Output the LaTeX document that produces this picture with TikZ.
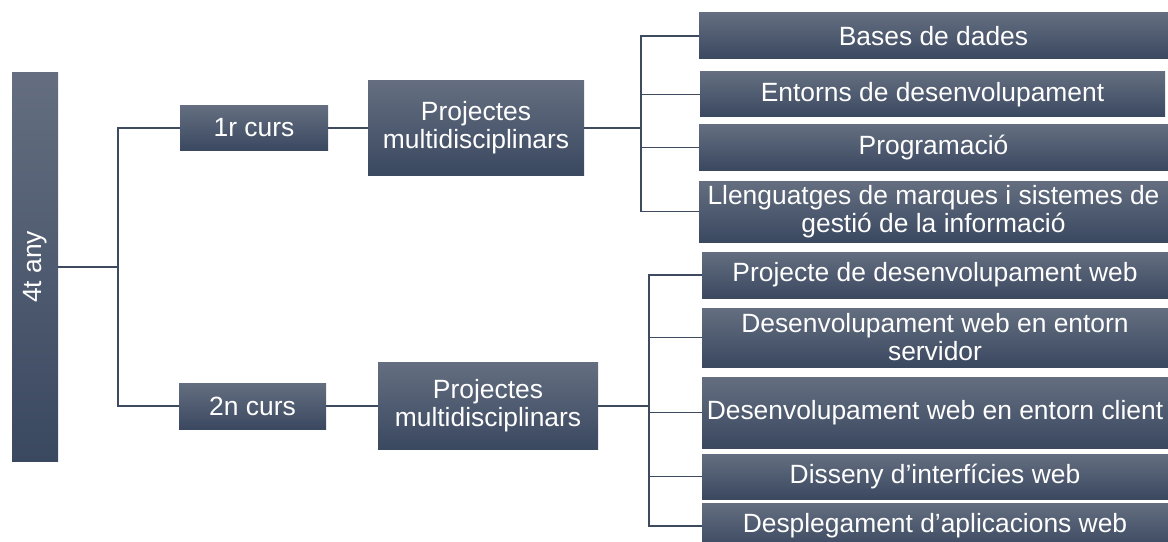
\documentclass[tikz,border=0pt]{standalone}
\usepackage{fontspec}
\setmainfont{Liberation Sans}
\definecolor{boxtop}{RGB}{100,110,128}
\definecolor{boxmid}{RGB}{68,82,106}
\definecolor{boxbot}{RGB}{58,72,96}
\definecolor{linecol}{RGB}{62,74,94}
\begin{document}
\begin{tikzpicture}[x=0.75pt,y=-0.75pt,
  box/.style={rectangle, inner sep=0pt, outer sep=0pt, align=center,
    top color=boxtop, middle color=boxmid, bottom color=boxbot,
    text=white, font=\fontsize{19.8}{21}\selectfont},
  wh/.style 2 args={minimum width=#1*0.75pt, minimum height=#2*0.75pt},
  conn/.style={draw=linecol, line width=1.05pt}]
\clip (0,0) rectangle (1168,542);

% root
\node[box, wh={46}{388}] (y4) at (35,267) {\rotatebox{90}{4t any}};

% courses
\node[box, wh={148}{45}] (c1) at (254,128) {1r curs};
\node[box, wh={147}{46}] (c2) at (252.5,406) {2n curs};

% project blocks
\node[box, wh={216}{94}] (p1) at (476,128) {Projectes\\multidisciplinars};
\node[box, wh={220}{87}] (p2) at (488,406) {Projectes\\multidisciplinars};

% first-year modules
\node[box, wh={469}{46}] (s1) at (933.5,36) {Bases de dades};
\node[box, wh={465}{45}] (s2) at (932.5,94.5) {Entorns de desenvolupament};
\node[box, wh={469}{45}] (s3) at (933.5,147.5) {Programació};
\node[box, wh={469}{61}] (s4) at (933.5,211.5) {Llenguatges de marques i sistemes de\\gestió de la informació};

% second-year modules
\node[box, wh={466}{46}] (t1) at (935,275) {Projecte de desenvolupament web};
\node[box, wh={466}{59}] (t2) at (935,337.5) {Desenvolupament web en entorn\\servidor};
\node[box, wh={466}{71}] (t3) at (935,412.5) {Desenvolupament web en entorn client};
\node[box, wh={466}{45}] (t4) at (935,476.5) {Disseny d’interfícies web};
\node[box, wh={466}{46}] (t5) at (935,526) {Desplegament d’aplicacions web};

% junction points of the elbow connectors
\coordinate (j0) at (118,267);
\coordinate (j1) at (641,128);
\coordinate (j2) at (649,406);

\draw[conn] (y4.east) -- (j0);
\foreach \n in {c1,c2} \draw[conn] (j0) |- (\n.west);
\draw[conn] (c1.east) -- (p1.west);
\draw[conn] (c2.east) -- (p2.west);

\draw[conn] (p1.east) -- (j1);
\foreach \n in {s1,s2,s3,s4} \draw[conn] (j1) |- (\n.west);

\draw[conn] (p2.east) -- (j2);
\foreach \n in {t1,t2,t3,t4,t5} \draw[conn] (j2) |- (\n.west);
\end{tikzpicture}
\end{document}
